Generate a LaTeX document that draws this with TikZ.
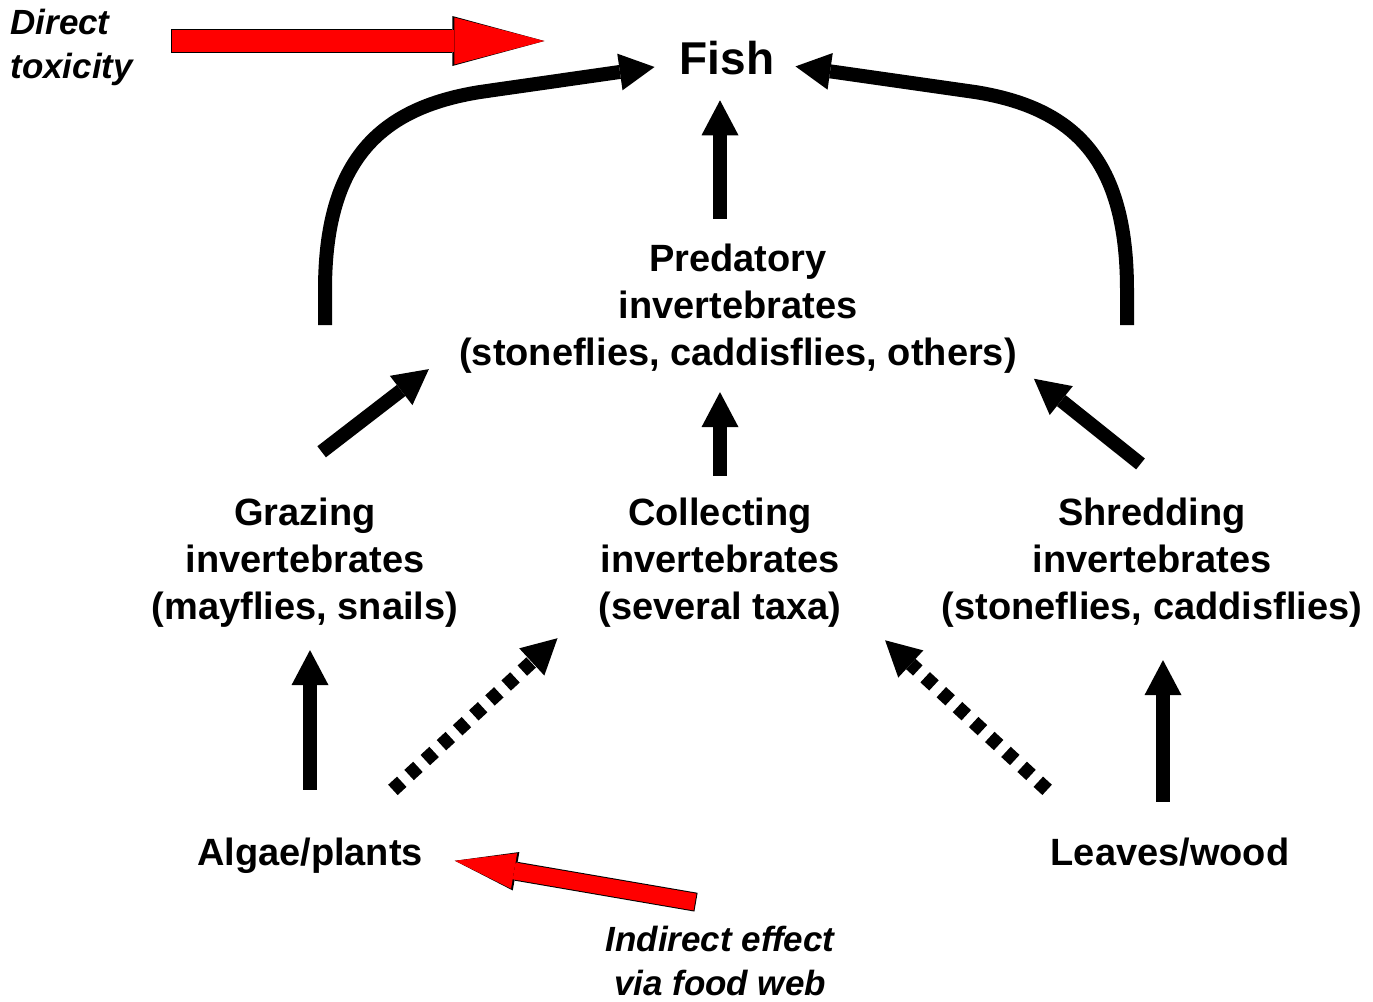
\documentclass[tikz,border=0pt]{standalone}
\usepackage{fontspec}
\setmainfont{Liberation Sans}
\usetikzlibrary{arrows.meta}

\begin{document}
\begin{tikzpicture}[
    x=0.5pt, y=-0.5pt,
    every node/.style={align=center, inner sep=2pt},
    taxon/.style={font=\bfseries\fontsize{19}{23.5}\selectfont},
    base/.style={taxon, text height=14pt, text depth=5pt},
    note/.style={font=\bfseries\itshape\fontsize{17.5}{22}\selectfont},
    feed/.style={line width=7pt, -{Triangle[length=17.5pt,width=18.5pt,line width=0pt]}},
    weak/.style={feed, dash pattern=on 6pt off 5pt},
    toxic top/.style={draw=red, line width=11pt, shorten >=#1,
      -{Triangle[length=45pt,width=23.5pt,line width=0pt]},
      preaction={draw=black, line width=12pt, shorten <=-0.5pt, shorten >=#1,
        -{Triangle[length=46pt,width=25pt,line width=0pt]}}},
    toxic low/.style={draw=red, line width=8.5pt, shorten >=#1,
      -{Triangle[length=30pt,width=18pt,line width=0pt]},
      preaction={draw=black, line width=9.5pt, shorten <=-0.5pt, shorten >=#1,
        -{Triangle[length=31pt,width=19.5pt,line width=0pt]}}}
  ]
  \useasboundingbox (0,0) rectangle (1373,1002);

  % levels of the food web
  \node[font=\bfseries\fontsize{23}{28}\selectfont] (fish) at (727,58) {Fish};
  \node[taxon] (pred) at (738,309) {Predatory\\invertebrates\\(stoneflies, caddisflies, others)};
  \node[taxon] (graz) at (305,563) {Grazing\\invertebrates\\(mayflies, snails)};
  \node[taxon] (coll) at (720,563) {Collecting\\invertebrates\\(several taxa)};
  \node[taxon] (shred) at (1152,563) {Shredding\\invertebrates\\(stoneflies, caddisflies)};
  \node[base] (algae) at (310,856) {Algae/plants};
  \node[base] (leaves) at (1170,856) {Leaves/wood};

  % effects
  \node[note, anchor=west, align=left] (tox) at (6,47) {Direct\\toxicity};
  \node[note] (indir) at (720,961) {Indirect effect\\via food web};
  \coordinate (tox-tail) at (172,41);
  \coordinate (ind-tail) at (695,902);
  \coordinate (gz-top) at (325,325);
  \coordinate (sh-top) at (1127,325);

  \draw[toxic top=65.5pt] (tox-tail) -- (tox-tail -| fish.west);
  \draw[toxic low=14pt] (ind-tail) -- (algae.east);

  % feeding links
  \draw[feed, shorten >=10.5pt] (gz-top) -- (325,290)
    .. controls (325,160) and (380,108) .. (480,92) -- ([yshift=-3pt]fish.west);
  \draw[feed, shorten >=8.5pt] (sh-top) -- (1127,290)
    .. controls (1127,160) and (1075,108) .. (975,92) -- ([yshift=-3pt]fish.east);
  \draw[feed, shorten <=10.5pt, shorten >=10.5pt] (coll.north |- pred.north) -- (coll.north |- fish.south);
  \draw[feed, shorten <=34.5pt] ([xshift=-19pt]graz.north) -- ([xshift=-13pt,yshift=4.5pt]pred.south west);
  \draw[feed, shorten <=9pt, shorten >=7pt] (coll.north) -- (coll.north |- pred.south);
  \draw[feed, shorten <=24pt, shorten >=0.5pt] ([xshift=13pt]shred.north) -- ([xshift=6pt]pred.south east);
  \draw[feed, shorten <=21.5pt, shorten >=9pt] (algae.north) -- (algae.north |- graz.south);
  \draw[weak, shorten <=31.5pt, shorten >=4.5pt] ([xshift=18.3pt]algae.north) -- ([xshift=-15pt]coll.south west);
  \draw[weak, shorten <=31.5pt, shorten >=6pt] ([xshift=-38.3pt]leaves.north) -- ([xshift=15.2pt]coll.south east);
  \draw[feed, shorten <=15.5pt, shorten >=14pt] ([xshift=-3.5pt]leaves.north) -- ([xshift=-3.5pt]leaves.north |- shred.south);
\end{tikzpicture}
\end{document}
